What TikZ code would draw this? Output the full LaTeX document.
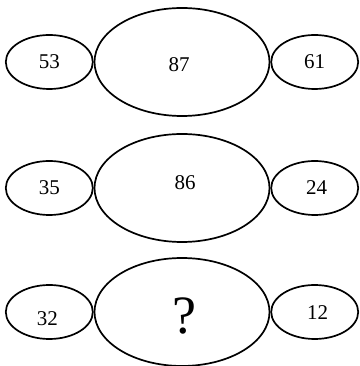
\documentclass[tikz,border=0pt]{standalone}
\usepackage{fontspec}
\setmainfont{Liberation Serif}
\usetikzlibrary{positioning, shapes.geometric}

\begin{document}
\begin{tikzpicture}[x=1pt, y=1pt, semithick]
  % Styles
  \tikzstyle{bigoval}=[draw=black, line width=1.7pt, ellipse, inner sep=0pt, minimum width=175pt, minimum height=108pt]
  \tikzstyle{smalloval}=[draw=black, line width=1.7pt, ellipse, inner sep=0pt, minimum width=87pt, minimum height=54pt]
  \tikzset{number/.style={inner sep=0pt, font=\fontsize{21}{25}\selectfont}}
  \tikzset{query/.style={inner sep=0pt, font=\fontsize{54}{60}\selectfont}}
  \useasboundingbox (0,0) rectangle (359,366);

  % --- Row 1 ---
  \node[bigoval] (Mid1) at (182,304) {};
  \node[smalloval, left=0pt of Mid1] (Left1) {};
  \node[smalloval, right=0pt of Mid1] (Right1) {};
  \node[number] (LeftNum1) at (Left1.center) {53};
  \node[number] (MidNum1) at ([shift={(-3,-3)}]Mid1.center) {87};
  \node[number] (RightNum1) at (Right1.center) {61};

  % --- Row 2 ---
  \node[bigoval] (Mid2) at (182,178) {};
  \node[smalloval, left=0pt of Mid2] (Left2) {};
  \node[smalloval, right=0pt of Mid2] (Right2) {};
  \node[number] (LeftNum2) at (Left2.center) {35};
  \node[number] (MidNum2) at ([shift={(3,5)}]Mid2.center) {86};
  \node[number] (RightNum2) at ([shift={(2,0)}]Right2.center) {24};

  % --- Row 3 (the puzzle) ---
  \node[bigoval] (Mid3) at (182,54) {};
  \node[smalloval, left=0pt of Mid3] (Left3) {};
  \node[smalloval, right=0pt of Mid3] (Right3) {};
  \node[number] (LeftNum3) at ([shift={(-2,-7)}]Left3.center) {32};
  \node[query] (Query) at ([shift={(2,-4)}]Mid3.center) {?};
  \node[number] (RightNum3) at ([shift={(3,-1)}]Right3.center) {12};

\end{tikzpicture}
\end{document}
